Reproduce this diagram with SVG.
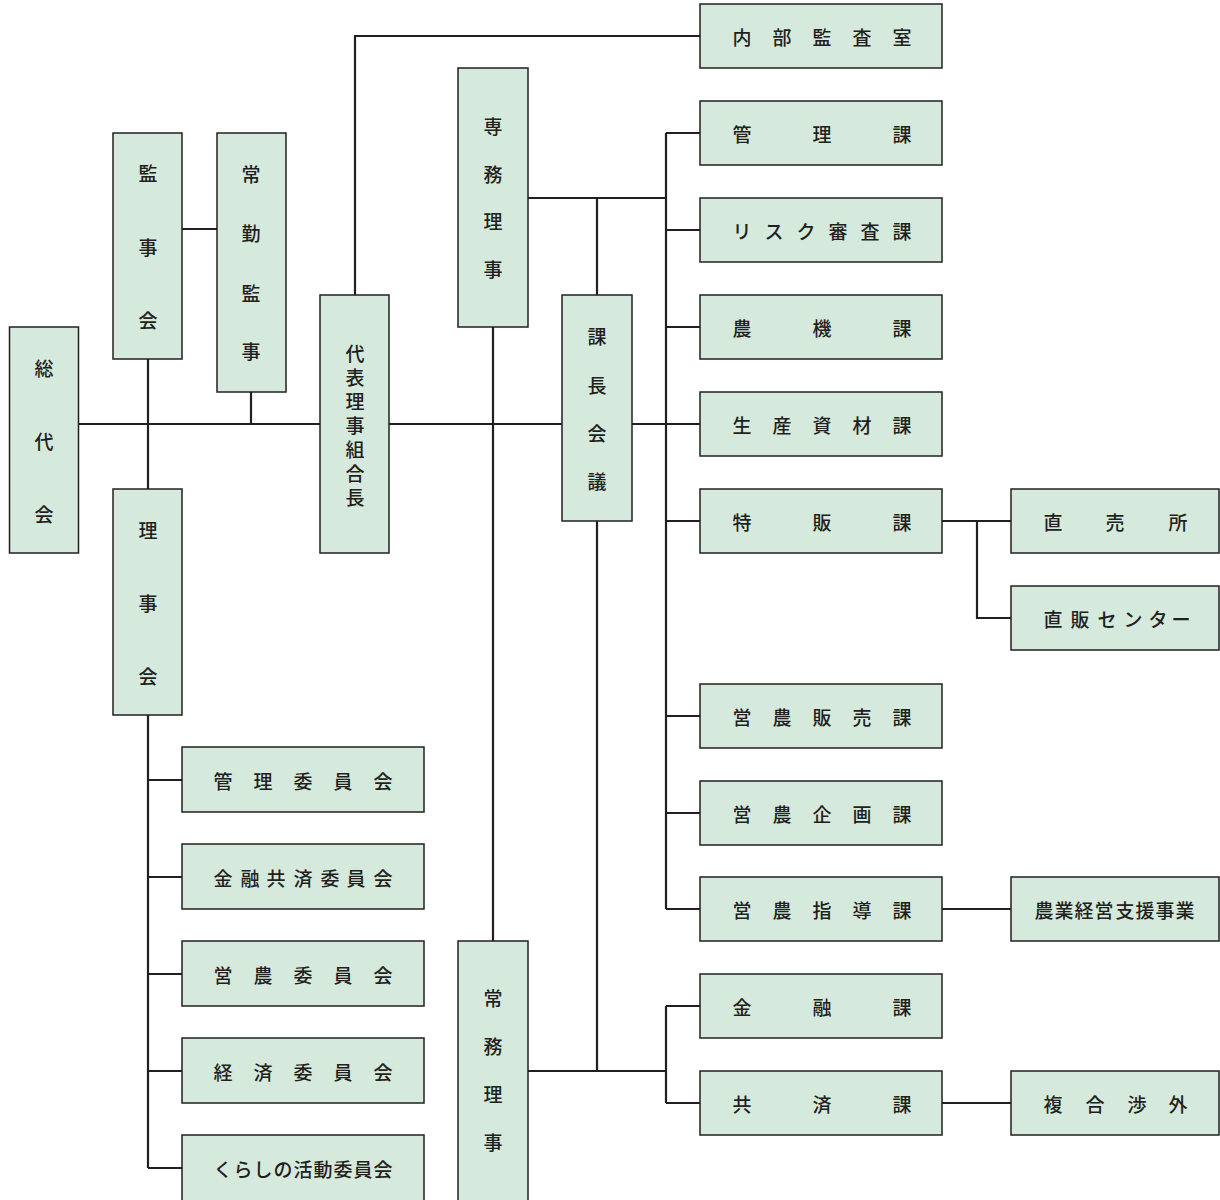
<svg xmlns="http://www.w3.org/2000/svg" width="1220" height="1200" viewBox="0 0 1220 1200">
<style>
.b{fill:#d5eadd;stroke:#231f20;stroke-width:1.5}
.t{font-family:"Noto Sans CJK JP","Noto Sans",sans-serif;font-size:19px;font-weight:500;fill:#231f20;text-anchor:middle;dominant-baseline:central}
.c{stroke:#231f20;stroke-width:2.2;fill:none}
</style>
<rect width="1220" height="1200" fill="#ffffff"/>
<g id="connectors" class="c">
<path d="M78 424H320M389 424H562M632 424H700"/>
<path d="M148 359V489M182 229H217M251 392V424"/>
<path d="M355 295V36H700"/>
<path d="M528 198H666M597 198V295"/>
<path d="M666 133V909M666 133H700M666 230H700M666 327H700M666 521H700M666 716H700M666 813H700M666 909H700"/>
<path d="M493 327V941"/>
<path d="M597 521V1071M528 1071H666M666 1006V1103M666 1006H700M666 1103H700"/>
<path d="M942 521H1011M977 521V618H1011"/>
<path d="M942 909H1011M942 1103H1011"/>
<path d="M148 715V1168M148 780H182M148 877H182M148 974H182M148 1071H182M148 1168H182"/>
</g>
<g id="soudaikai"><rect class="b" x="9.5" y="327" width="69" height="226"/><text class="t" x="44 44 44" y="367 440 513">総代会</text></g>
<g id="kanjikai"><rect class="b" x="113" y="133" width="69" height="226"/><text class="t" x="148 148 148" y="172 246 319">監事会</text></g>
<g id="joukinkanji"><rect class="b" x="217" y="133" width="69" height="259"/><text class="t" x="251 251 251 251" y="173 232 292 350">常勤監事</text></g>
<g id="daihyou"><rect class="b" x="320" y="295" width="69" height="258"/><text class="t" x="355 355 355 355 355 355 355" y="352 376 400 424 448 472 496">代表理事組合長</text></g>
<g id="rijikai"><rect class="b" x="113" y="489" width="69" height="226"/><text class="t" x="148 148 148" y="529 602 675">理事会</text></g>
<g id="senmu"><rect class="b" x="458" y="68" width="70" height="259"/><text class="t" x="493 493 493 493" y="125 173 220 268">専務理事</text></g>
<g id="kachoukaigi"><rect class="b" x="562" y="295" width="70" height="226"/><text class="t" x="597 597 597 597" y="335 384 432 480">課長会議</text></g>
<g id="joumu"><rect class="b" x="458" y="941" width="70" height="280"/><text class="t" x="493 493 493 493" y="997 1045 1093 1141">常務理事</text></g>
<g id="naibu"><rect class="b" x="700" y="4" width="242" height="64"/><text class="t" x="742 782 822 862 902" y="36">内部監査室</text></g>
<g id="kanri"><rect class="b" x="700" y="101" width="242" height="64"/><text class="t" x="742 822 902" y="133">管理課</text></g>
<g id="risk"><rect class="b" x="700" y="198" width="242" height="64"/><text class="t" x="742 774 806 838 870 902" y="230">リスク審査課</text></g>
<g id="nouki"><rect class="b" x="700" y="295" width="242" height="64"/><text class="t" x="742 822 902" y="327">農機課</text></g>
<g id="seisan"><rect class="b" x="700" y="392" width="242" height="64"/><text class="t" x="742 782 822 862 902" y="424">生産資材課</text></g>
<g id="tokuhan"><rect class="b" x="700" y="489" width="242" height="64"/><text class="t" x="742 822 902" y="521">特販課</text></g>
<g id="einouhanbai"><rect class="b" x="700" y="684" width="242" height="64"/><text class="t" x="742 782 822 862 902" y="716">営農販売課</text></g>
<g id="einoukikaku"><rect class="b" x="700" y="781" width="242" height="64"/><text class="t" x="742 782 822 862 902" y="813">営農企画課</text></g>
<g id="einoushidou"><rect class="b" x="700" y="877" width="242" height="64"/><text class="t" x="742 782 822 862 902" y="909">営農指導課</text></g>
<g id="kinyuu"><rect class="b" x="700" y="974" width="242" height="64"/><text class="t" x="742 822 902" y="1006">金融課</text></g>
<g id="kyousai"><rect class="b" x="700" y="1071" width="242" height="64"/><text class="t" x="742 822 902" y="1103">共済課</text></g>
<g id="chokubaijo"><rect class="b" x="1011" y="489" width="208" height="64"/><text class="t" x="1053 1115 1178" y="521">直売所</text></g>
<g id="chokuhan"><rect class="b" x="1011" y="586" width="208" height="64"/><text class="t" x="1053 1080 1107 1133 1158 1181" y="618">直販センター</text></g>
<g id="nougyou"><rect class="b" x="1011" y="877" width="208" height="64"/><text class="t" x="1044 1064 1084 1104 1125 1145 1165 1185" y="909">農業経営支援事業</text></g>
<g id="fukugou"><rect class="b" x="1011" y="1071" width="208" height="64"/><text class="t" x="1053 1095 1137 1178" y="1103">複合渉外</text></g>
<g id="kanriiinkai"><rect class="b" x="182" y="747" width="242" height="65"/><text class="t" x="223 263 303 343 383" y="780">管理委員会</text></g>
<g id="kinyuukyousai"><rect class="b" x="182" y="844" width="242" height="65"/><text class="t" x="223 250 276 303 330 356 383" y="877">金融共済委員会</text></g>
<g id="einouiinkai"><rect class="b" x="182" y="941" width="242" height="65"/><text class="t" x="223 263 303 343 383" y="974">営農委員会</text></g>
<g id="keizai"><rect class="b" x="182" y="1038" width="242" height="65"/><text class="t" x="223 263 303 343 383" y="1071">経済委員会</text></g>
<g id="kurashi"><rect class="b" x="182" y="1135" width="242" height="75"/><text class="t" x="223 243 263 283 303 323 343 363 383" y="1168">くらしの活動委員会</text></g>
</svg>
